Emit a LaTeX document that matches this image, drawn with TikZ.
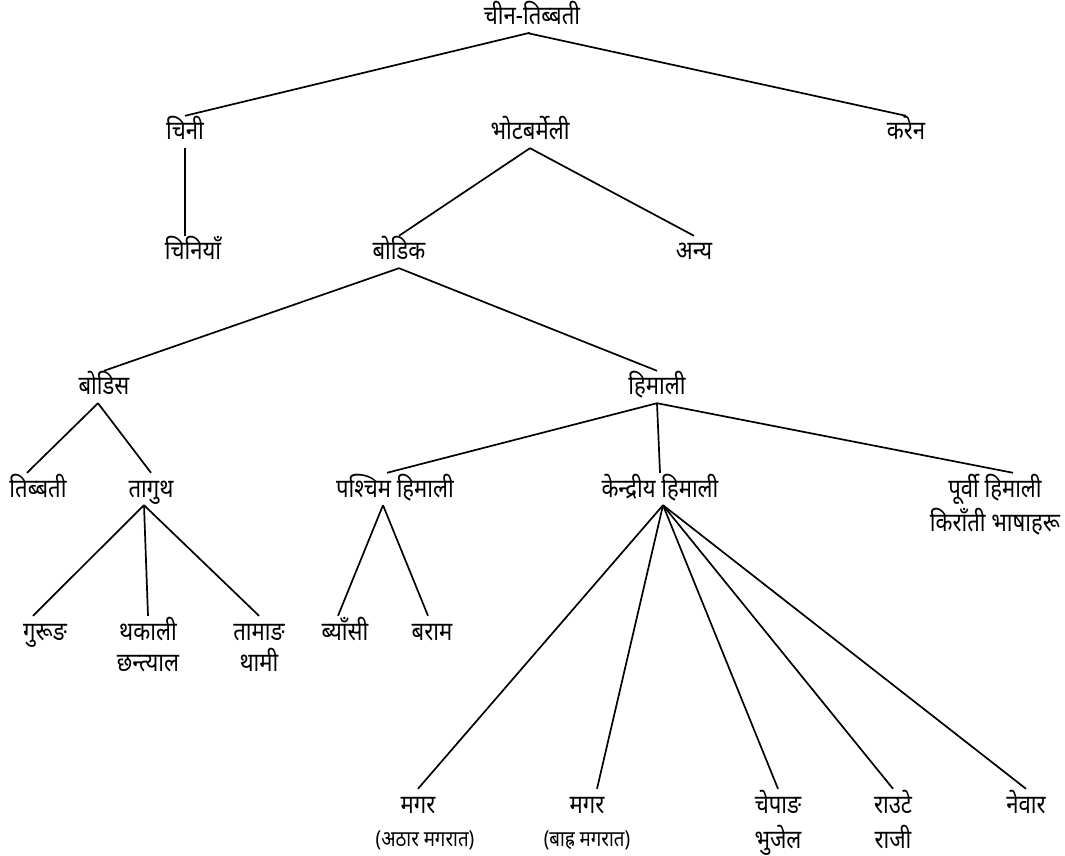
\documentclass[tikz,border=0pt]{standalone}
\usepackage{fontspec}
\setmainfont{Noto Sans}[Script=Devanagari, FakeStretch=0.85]
\usepackage{tikz}
\usetikzlibrary{shapes,arrows}
\tikzstyle{lang} = [rectangle, align=center, inner sep=0pt, text height=24pt, text depth=8pt]
\tikzstyle{langSM} = [lang, font=\fontsize{22}{26}\selectfont]
\tikzstyle{line} = [draw, line width=1.7pt]

\begin{document}
\begin{tikzpicture}[auto,
  % todas las cotas en pt: 1pt del dibujo = 1px de la figura
  font=\fontsize{26}{30}\selectfont
  ]
    \useasboundingbox (0pt,0pt) rectangle (1065pt,855pt);

    % nodes
    \node [lang] (root) at (532pt,838pt) {चीन-तिब्बती};
    \node [lang, below of = root, node distance = 115pt, xshift = -347pt] (chini) {चिनी};
    \node [lang, below of = root, node distance = 115pt, xshift = -2pt] (bhot) {भोटबर्मेली};
    \node [lang, below of = root, node distance = 115pt, xshift = 374pt] (karen) {करेन};
    \node [lang, below of = chini, node distance = 120pt, xshift = 8pt] (chiniya) {चिनियाँ};
    \node [lang, below of = bhot, node distance = 120pt, xshift = -131pt] (bodik) {बोडिक};
    \node [lang, below of = bhot, node distance = 120pt, xshift = 164pt] (anya) {अन्य};
    \node [lang, below of = bodik, node distance = 135pt, xshift = -295pt] (bodis) {बोडिस};
    \node [lang, below of = bodik, node distance = 135pt, xshift = 258pt] (himali) {हिमाली};
    \node [lang, below of = bodis, node distance = 102pt, xshift = -66pt] (tibbati) {तिब्बती};
    \node [lang, below of = bodis, node distance = 102pt, xshift = 47pt] (taguth) {तागुथ};
    \node [lang, below of = taguth, node distance = 143pt, xshift = -106pt] (gurung) {गुरूङ};
    \node [lang, below of = taguth, node distance = 143pt, xshift = -3pt] (thakali) {थकाली};
    \node [lang, below of = thakali, node distance = 31pt] (chhantyal) {छन्त्याल};
    \node [lang, below of = taguth, node distance = 143pt, xshift = 108pt] (tamang) {तामाङ};
    \node [lang, below of = tamang, node distance = 31pt] (thami) {थामी};
    \node [lang, below of = himali, node distance = 102pt, xshift = -262pt] (pashchim) {पश्चिम हिमाली};
    \node [lang, below of = himali, node distance = 102pt, xshift = 3pt] (kendriya) {केन्द्रीय हिमाली};
    \node [lang, below of = himali, node distance = 102pt, xshift = 338pt] (purbi) {पूर्वी हिमाली};
    \node [lang, below of = purbi, node distance = 34pt] (kiranti) {किराँती भाषाहरू};
    \node [lang, below of = pashchim, node distance = 143pt, xshift = -50pt] (byansi) {ब्याँसी};
    \node [lang, below of = pashchim, node distance = 143pt, xshift = 37pt] (baram) {बराम};
    \node [lang, below of = kendriya, node distance = 316pt, xshift = -242pt] (magarA) {मगर};
    \node [langSM, below of = magarA, node distance = 33pt, xshift = 7pt] (athar) {(अठार मगरात)};
    \node [lang, below of = kendriya, node distance = 316pt, xshift = -73pt] (magarB) {मगर};
    \node [langSM, below of = magarB, node distance = 33pt] (barha) {(बाह्र मगरात)};
    \node [lang, below of = kendriya, node distance = 316pt, xshift = 118pt] (chepang) {चेपाङ};
    \node [lang, below of = chepang, node distance = 35pt] (bhujel) {भुजेल};
    \node [lang, below of = kendriya, node distance = 316pt, xshift = 233pt] (raute) {राउटे};
    \node [lang, below of = raute, node distance = 35pt] (raji) {राजी};
    \node [lang, below of = kendriya, node distance = 316pt, xshift = 366pt] (newar) {नेवार};

    % edges
    \path [line] ([xshift=-4pt]root.south) -- (chini.north);
    \path [line] ([xshift=-4pt]root.south) -- (root.south -| bhot.north);
    \path [line] ([xshift=-4pt]root.south) -- (karen.north);
    \path [line] (chini.south) -- (chini.south |- chiniya.north);
    \path [line] (bhot.south) -- (bodik.north);
    \path [line] (bhot.south) -- (anya.north);
    \path [line] (bodik.south) -- (bodis.north);
    \path [line] (bodik.south) -- (himali.north);
    \path [line] ([xshift=-6pt]bodis.south) -- ([xshift=-11pt]tibbati.north);
    \path [line] ([xshift=-6pt]bodis.south) -- (taguth.north);
    \path [line] ([xshift=-7pt]taguth.south) -- ([xshift=-12pt]gurung.north);
    \path [line] ([xshift=-7pt]taguth.south) -- (thakali.north);
    \path [line] ([xshift=-7pt]taguth.south) -- (tamang.north);
    \path [line] (himali.south) -- ([xshift=-8pt]pashchim.north);
    \path [line] (himali.south) -- (kendriya.north);
    \path [line] (himali.south) -- ([xshift=18pt]purbi.north);
    \path [line] ([xshift=-12pt]pashchim.south) -- ([xshift=-7pt]byansi.north);
    \path [line] ([xshift=-12pt]pashchim.south) -- ([xshift=-4pt]baram.north);
    \path [line] ([xshift=3pt]kendriya.south) -- (magarA.north);
    \path [line] ([xshift=3pt]kendriya.south) -- ([xshift=10pt]magarB.north);
    \path [line] ([xshift=3pt]kendriya.south) -- (chepang.north);
    \path [line] ([xshift=3pt]kendriya.south) -- (raute.north);
    \path [line] ([xshift=3pt]kendriya.south) -- (newar.north);
  \end{tikzpicture}
\end{document}
